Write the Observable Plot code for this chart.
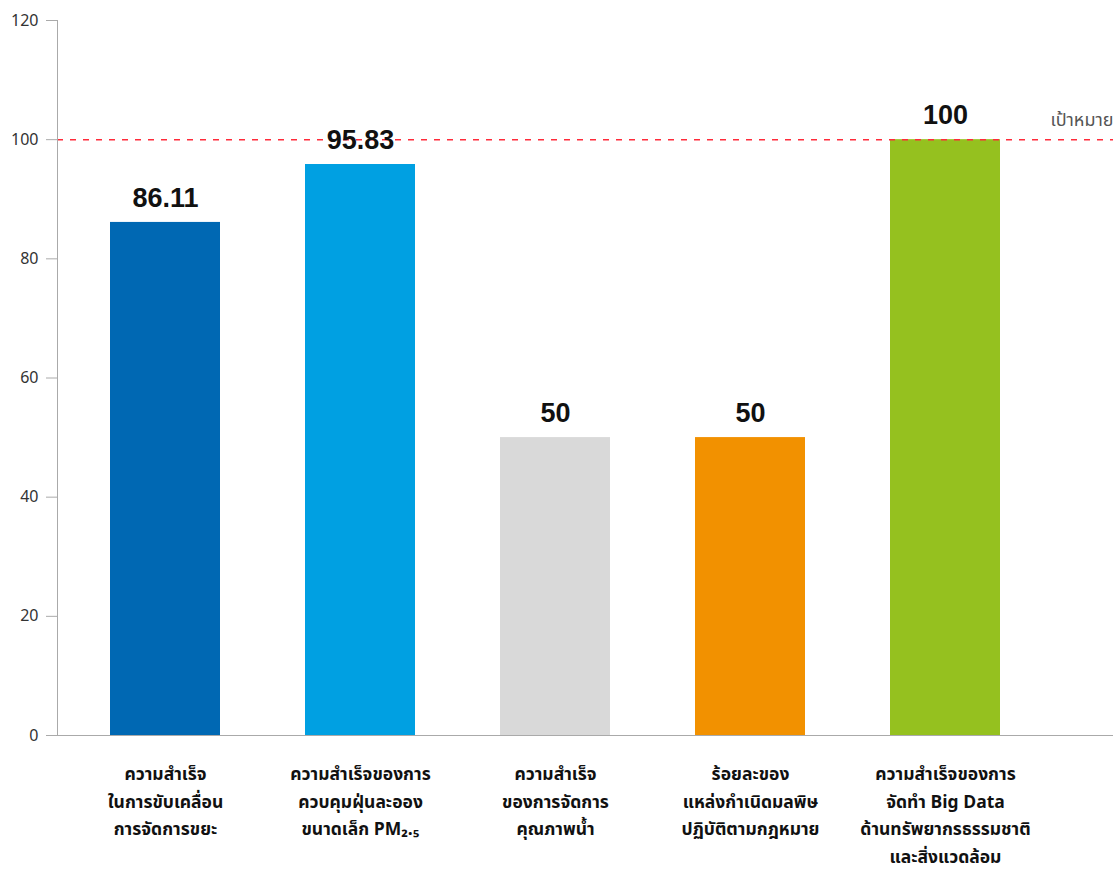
<!DOCTYPE html>
<html>
<head>
<meta charset="utf-8">
<script src="https://cdn.jsdelivr.net/npm/d3@7"></script>
<script src="https://cdn.jsdelivr.net/npm/@observablehq/plot@0.6"></script>
<style>
  html, body { margin: 0; padding: 0; background: #fff; }
  #chart { width: 1118px; height: 873px; }
</style>
</head>
<body>
<div id="chart"></div>
<script>
const categories = ["c1", "c2", "c3", "c4", "c5"];
const labels = [
  "ความสำเร็จ\nในการขับเคลื่อน\nการจัดการขยะ",
  "ความสำเร็จของการ\nควบคุมฝุ่นละออง\nขนาดเล็ก PM₂.₅",
  "ความสำเร็จ\nของการจัดการ\nคุณภาพน้ำ",
  "ร้อยละของ\nแหล่งกำเนิดมลพิษ\nปฏิบัติตามกฎหมาย",
  "ความสำเร็จของการ\nจัดทำ Big Data\nด้านทรัพยากรธรรมชาติ\nและสิ่งแวดล้อม"
];
const values = [86.11, 95.83, 50, 50, 100];
const valueLabels = ["86.11", "95.83", "50", "50", "100"];
const colors = ["#0068b3", "#00a0e2", "#d9d9d9", "#f29100", "#95c11f"];
const target = 100;
const targetLabel = "เป้าหมาย";
const yTicks = [0, 20, 40, 60, 80, 100, 120];

const data = categories.map((c, i) => ({
  cat: c, value: values[i], label: labels[i], vlabel: valueLabels[i], color: colors[i]
}));

const thaiFont = "Tahoma, 'Noto Sans Thai', 'Noto Sans', 'DejaVu Sans', sans-serif";

const chart = Plot.plot({
  width: 1118,
  height: 873,
  marginTop: 20,
  marginBottom: 138,
  marginLeft: 57,
  marginRight: 5,
  style: { fontFamily: thaiFont, background: "#fff" },
  x: {
    domain: categories,
    range: [67.5, 1042.5],
    paddingInner: 85 / 195,
    paddingOuter: 42.5 / 195,
    axis: null
  },
  y: { domain: [0, 120], ticks: yTicks, axis: null },
  color: { type: "identity" },
  marks: [
    Plot.barY(data, { x: "cat", y: "value", fill: "color" }),
    Plot.ruleY([target], { stroke: "#ff2b3a", strokeWidth: 1.5, strokeDasharray: "6,7" }),
    Plot.axisY({
      ticks: yTicks, tickSize: 11, tickPadding: 8, stroke: "#aaa",
      fontSize: 16, color: "#333", fill: "#333", label: null
    }),
    Plot.frame({ anchor: "left", stroke: "#aaa" }),
    Plot.ruleY([0], { stroke: "#aaa" }),
    Plot.text(data, {
      x: "cat", y: "value", text: "vlabel", dy: -24,
      fontSize: 27, fontWeight: "bold", fill: "#111",
      fontFamily: "'Liberation Sans', Arial, Helvetica, sans-serif"
    }),
    Plot.text(data, {
      x: "cat", y: 0, text: "label", dy: 25, lineAnchor: "top",
      lineHeight: 1.58, fontSize: 17.5, fontWeight: "bold", fill: "#111"
    }),
    Plot.text([targetLabel], {
      y: [target], frameAnchor: "right", textAnchor: "end", dy: -19,
      fontSize: 18, fill: "#555"
    })
  ]
});
document.getElementById("chart").appendChild(chart);
</script>
</body>
</html>
